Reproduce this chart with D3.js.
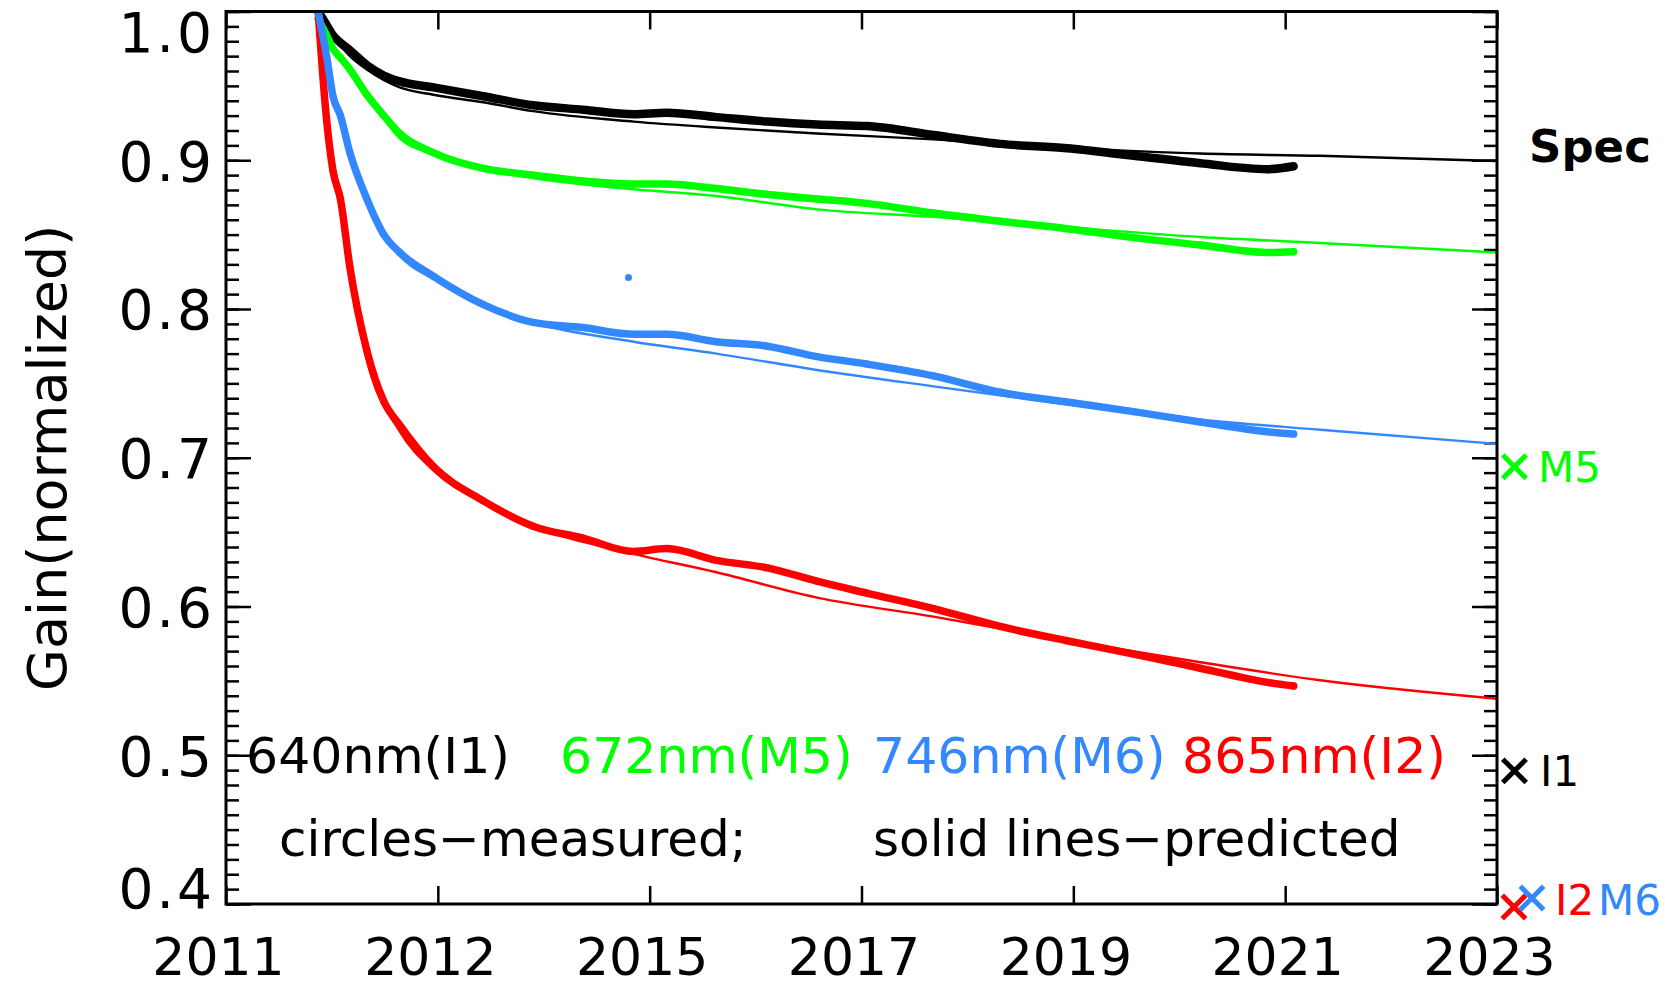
<!DOCTYPE html>
<html>
<head>
<meta charset="utf-8">
<script src="https://d3js.org/d3.v7.min.js"></script>
<style>
  body { margin: 0; background: #fff; }
  text { font-family: "DejaVu Sans", sans-serif; }
</style>
</head>
<body>
<div id="chart"></div>
<script>
// Establish svg width and height
var svgWidth = 1665;
var svgHeight = 988;

var margin = { top: 11.5, right: 168, bottom: 84, left: 226 };
var width = svgWidth - margin.left - margin.right;
var height = svgHeight - margin.top - margin.bottom;

// Data
var xTickValues = [2011, 2013, 2015, 2017, 2019, 2021, 2023];
var xTickLabels = ["2011", "2012", "2015", "2017", "2019", "2021", "2023"];
var yMajorTicks = [0.4, 0.5, 0.6, 0.7, 0.8, 0.9, 1.0];

var bandNames = ["I1", "M5", "M6", "I2"];
var bandLabels = ["640nm(I1)", "672nm(M5)", "746nm(M6)", "865nm(I2)"];
var bandColors = ["#000000", "#00ff00", "#3388ff", "#ff0000"];

// measured (circles)
var measYears = [2011.87, 2011.95, 2012.01, 2012.08, 2012.17, 2012.33, 2012.49, 2012.64, 2012.96,
  2013.43, 2013.90, 2014.37, 2014.85, 2015.16, 2015.63, 2016.11, 2016.58, 2017.05, 2017.68,
  2018.31, 2018.94, 2019.57, 2020.20, 2020.83, 2021.08];
var measI1 = [1.000, 0.991, 0.984, 0.979, 0.974, 0.964, 0.957, 0.953, 0.949,
  0.943, 0.937, 0.934, 0.931, 0.932, 0.929, 0.926, 0.924, 0.923, 0.917,
  0.911, 0.908, 0.903, 0.898, 0.894, 0.896];
var measM5 = [0.995, 0.984, 0.975, 0.969, 0.961, 0.944, 0.930, 0.918, 0.905,
  0.8945, 0.890, 0.886, 0.884, 0.884, 0.881, 0.877, 0.874, 0.871, 0.8645,
  0.859, 0.854, 0.848, 0.843, 0.838, 0.8385];
var measM6 = [1.000, 0.970, 0.943, 0.930, 0.905, 0.874, 0.850, 0.838, 0.822,
  0.803, 0.791, 0.7875, 0.783, 0.783, 0.778, 0.775, 0.768, 0.763, 0.755,
  0.744, 0.7375, 0.731, 0.724, 0.7175, 0.716];
var measI2 = [1.000, 0.927, 0.893, 0.874, 0.828, 0.772, 0.738, 0.722, 0.694,
  0.671, 0.654, 0.646, 0.637, 0.639, 0.631, 0.626, 0.617, 0.609, 0.5986,
  0.5866, 0.577, 0.568, 0.5585, 0.549, 0.5465];
var outlierM6 = { year: 2014.80, value: 0.8212 };

// predicted (solid lines)
var predYears = [2011.87, 2011.95, 2012.01, 2012.08, 2012.17, 2012.33, 2012.64, 2012.96, 2013.43,
  2013.90, 2014.85, 2015.63, 2016.58, 2017.68, 2018.94, 2020.20, 2021.33, 2023.0];
var predI1 = [1.000, 0.990, 0.983, 0.977, 0.970, 0.961, 0.949, 0.944, 0.939,
  0.933, 0.926, 0.922, 0.918, 0.914, 0.9085, 0.9045, 0.903, 0.8995];
var predM5 = [1.000, 0.984, 0.975, 0.969, 0.962, 0.945, 0.9147, 0.904, 0.8945,
  0.888, 0.8805, 0.876, 0.867, 0.862, 0.855, 0.8484, 0.8444, 0.838];
var predM6 = [1.000, 0.968, 0.944, 0.928, 0.903, 0.872, 0.836, 0.820, 0.8014,
  0.7906, 0.778, 0.770, 0.759, 0.748, 0.736, 0.7255, 0.7188, 0.7093];
var predI2 = [1.000, 0.928, 0.893, 0.872, 0.8216, 0.7657, 0.7177, 0.6913, 0.6696,
  0.654, 0.6354, 0.623, 0.606, 0.5932, 0.5772, 0.5625, 0.5504, 0.538];

// spec marks outside the right edge
var specBands = ["M5", "I1", "I2", "M6"];
var specColors = ["#00ff00", "#000000", "#ff0000", "#3388ff"];
var specYears = [2023.165, 2023.165, 2023.16, 2023.33];
var specValues = [0.694, 0.4895, 0.398, 0.404];

var measured = { I1: measI1, M5: measM5, M6: measM6, I2: measI2 };
var predicted = { I1: predI1, M5: predM5, M6: predM6, I2: predI2 };

// Create an SVG wrapper
var svg = d3.select("#chart")
  .append("svg")
  .attr("width", svgWidth)
  .attr("height", svgHeight);

var chartGroup = svg.append("g")
  .attr("transform", `translate(${margin.left}, ${margin.top})`);

// scales
var xScale = d3.scaleLinear().domain([2011, 2023]).range([0, width]);
var yScale = d3.scaleLinear().domain([0.4, 1.0]).range([height, 0]);

chartGroup.append("clipPath")
  .attr("id", "plot-clip")
  .append("rect")
  .attr("width", width)
  .attr("height", height);

// axes (ticks point inward like IDL)
var minorTicks = d3.range(40, 101).map(d => d / 100);

function styleTicks(g, w) {
  g.select(".domain").remove();
  g.selectAll(".tick line").attr("stroke", "#000").attr("stroke-width", w);
}

chartGroup.append("g")
  .call(d3.axisLeft(yScale).tickValues(minorTicks).tickSize(-13).tickFormat(""))
  .call(g => styleTicks(g, 2.5));

var leftMajor = chartGroup.append("g")
  .call(d3.axisLeft(yScale).tickValues(yMajorTicks).tickSize(-25).tickPadding(11)
    .tickFormat(d3.format(".1f")))
  .call(g => styleTicks(g, 2.5));
// end labels are pulled inside the frame, as in the original
leftMajor.selectAll("text")
  .attr("font-size", 55)
  .attr("letter-spacing", 3)
  .attr("dy", d => d === 1.0 ? "0.72em" : d === 0.4 ? "0.07em" : "0.36em")
  .attr("fill", "#000");

chartGroup.append("g")
  .attr("transform", `translate(${width}, 0)`)
  .call(d3.axisRight(yScale).tickValues(minorTicks).tickSize(-13).tickFormat(""))
  .call(g => styleTicks(g, 2.5));

chartGroup.append("g")
  .attr("transform", `translate(${width}, 0)`)
  .call(d3.axisRight(yScale).tickValues(yMajorTicks).tickSize(-25).tickFormat(""))
  .call(g => styleTicks(g, 2.5));

chartGroup.append("g")
  .call(d3.axisTop(xScale).tickValues(xTickValues).tickSize(-18).tickFormat(""))
  .call(g => styleTicks(g, 2.5));

var bottomAxis = chartGroup.append("g")
  .attr("transform", `translate(0, ${height})`)
  .call(d3.axisBottom(xScale).tickValues(xTickValues).tickSize(-18).tickPadding(34)
    .tickFormat((d, i) => xTickLabels[i]))
  .call(g => styleTicks(g, 2.5));
bottomAxis.selectAll("text")
  .attr("font-size", 52)
  .attr("dx", -8)
  .attr("fill", "#000");

// y axis title
chartGroup.append("text")
  .attr("transform", "rotate(-90)")
  .attr("x", -height / 2)
  .attr("y", 66 - margin.left)
  .attr("text-anchor", "middle")
  .attr("font-size", 54)
  .text("Gain(normalized)");

// series
var plotArea = chartGroup.append("g").attr("clip-path", "url(#plot-clip)");

var bandLine = d3.line()
  .x(d => xScale(d.year))
  .y(d => yScale(d.value))
  .curve(d3.curveMonotoneX);

var drawOrder = ["I1", "M5", "I2", "M6"];
drawOrder.forEach(function(band) {
  var color = bandColors[bandNames.indexOf(band)];
  var meas = measYears.map((yr, i) => ({ year: yr, value: measured[band][i] }));
  var pred = predYears.map((yr, i) => ({ year: yr, value: predicted[band][i] }));

  plotArea.append("path")
    .datum(meas)
    .attr("d", bandLine)
    .attr("fill", "none")
    .attr("stroke", color)
    .attr("stroke-width", band === "I1" ? 8.5 : 7.5)
    .attr("stroke-linejoin", "round")
    .attr("stroke-linecap", "round");

  plotArea.selectAll(".pt-" + band)
    .data(meas)
    .enter()
    .append("circle")
    .attr("cx", d => xScale(d.year))
    .attr("cy", d => yScale(d.value))
    .attr("r", 3.5)
    .attr("fill", color);

  plotArea.append("path")
    .datum(pred)
    .attr("d", bandLine)
    .attr("fill", "none")
    .attr("stroke", color)
    .attr("stroke-width", 2.4);
});

plotArea.append("circle")
  .attr("cx", xScale(outlierM6.year))
  .attr("cy", yScale(outlierM6.value))
  .attr("r", 3.5)
  .attr("fill", bandColors[2]);

// frame
chartGroup.append("rect")
  .attr("width", width)
  .attr("height", height)
  .attr("fill", "none")
  .attr("stroke", "#000")
  .attr("stroke-width", 3);

// legend texts inside the plot
var legendX = [20, 334, 647, 956];
bandLabels.forEach(function(lab, i) {
  chartGroup.append("text")
    .attr("x", legendX[i])
    .attr("y", 761.5)
    .attr("font-size", 50.5)
    .attr("fill", bandColors[i])
    .text(lab);
});

chartGroup.append("text")
  .attr("x", 53)
  .attr("y", 844.5)
  .attr("font-size", 50)
  .text("circles\u2212measured;");

chartGroup.append("text")
  .attr("x", 647)
  .attr("y", 844.5)
  .attr("font-size", 50)
  .text("solid lines\u2212predicted");

// right side spec marks
chartGroup.append("text")
  .attr("x", 1303)
  .attr("y", 150)
  .attr("font-size", 45)
  .attr("font-weight", "bold")
  .text("Spec");

var timesSym = d3.symbol().type(d3.symbolTimes || d3.symbolX || d3.symbolCross).size(360);

specBands.forEach(function(band, i) {
  chartGroup.append("path")
    .attr("transform", `translate(${xScale(specYears[i])}, ${yScale(specValues[i])})`)
    .attr("d", timesSym)
    .attr("fill", "none")
    .attr("stroke", specColors[i])
    .attr("stroke-width", 5);
});

var specLabelX = [1312, 1314, 1329, 1372];
var specLabelRef = [0, 1, 2, 2];
specBands.forEach(function(band, i) {
  chartGroup.append("text")
    .attr("x", specLabelX[i])
    .attr("y", yScale(specValues[specLabelRef[i]]) + (i >= 2 ? 8 : 15))
    .attr("font-size", 42)
    .attr("fill", specColors[i])
    .text(band);
});
</script>
</body>
</html>
